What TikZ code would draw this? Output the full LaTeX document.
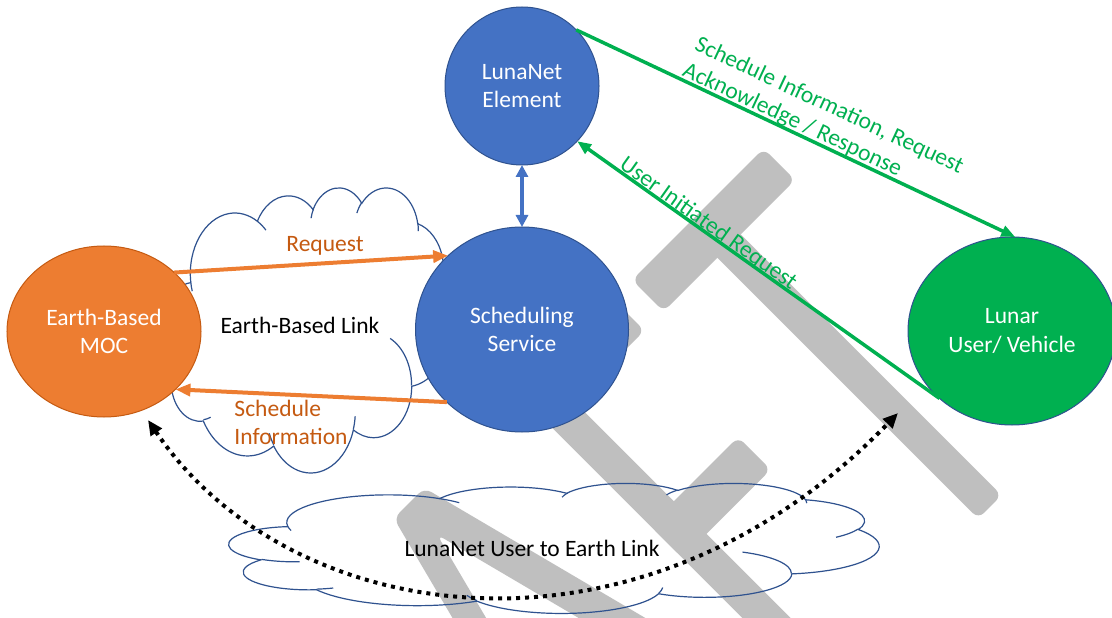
\documentclass[tikz,border=0pt]{standalone}
\usepackage{fontspec}
\setmainfont{Carlito}
\usetikzlibrary{arrows.meta,shapes.geometric}
\definecolor{cblue}{HTML}{4472C4}
\definecolor{cedge}{HTML}{2F528F}
\definecolor{corange}{HTML}{ED7D31}
\definecolor{coredge}{HTML}{C55A11}
\definecolor{corangetext}{HTML}{C55A11}
\definecolor{cgreen}{HTML}{00B050}
\definecolor{wmgray}{HTML}{BFBFBF}
\newcommand{\wmbar}[4]{\fill[wmgray,rounded corners=8bp] (#1,#2) -- (#3,#2) -- (#3,#4) -- (#1,#4) -- cycle;}
\newcommand{\officecloud}[4]{%
\begin{scope}[shift={(#1,#2)},x=#3bp,y=-#4bp]
\draw[cloudline] (39.00,143.70)
 arc[x radius=67.53,y radius=91.90,start angle=172.25,end angle=300.35]
 arc[x radius=53.33,y radius=72.67,start angle=-152.02,end angle=-45.47]
 arc[x radius=43.65,y radius=59.45,start angle=-153.47,end angle=-37.32]
 arc[x radius=48.57,y radius=65.95,start angle=-139.73,end angle=-10.22]
 arc[x radius=53.33,y radius=72.73,start angle=-74.78,end angle=23.21]
 arc[x radius=67.75,y radius=92.20,start angle=-37.54,end angle=81.86]
 arc[x radius=57.85,y radius=78.67,start angle=0.46,end angle=121.99]
 arc[x radius=67.52,y radius=92.15,start angle=16.84,end angle=146.21]
 arc[x radius=77.20,y radius=105.43,start angle=59.03,end angle=150.16]
 arc[x radius=43.60,y radius=59.18,start angle=83.31,end angle=223.11]
 arc[x radius=43.45,y radius=59.45,start angle=120.36,end angle=264.11]
 -- cycle;
\draw[cloudline]
 (46.93,261.77) arc[x radius=43.45,y radius=59.45,start angle=85.54,end angle=120.36]
 (69.28,348.99) arc[x radius=43.60,y radius=59.18,start angle=68.29,end angle=83.31]
 (164.78,390.90) arc[x radius=67.52,y radius=92.15,start angle=146.21,end angle=158.47]
 (288.27,347.51) arc[x radius=67.52,y radius=92.15,start angle=4.74,end angle=16.84]
 (341.29,229.54) arc[x radius=57.85,y radius=78.67,start angle=-64.0,end angle=0.46]
 (417.98,153.54) arc[x radius=53.33,y radius=72.73,start angle=23.21,end angle=49.65]
 (383.24,54.26) arc[x radius=48.57,y radius=65.95,start angle=-10.22,end angle=0.82]
 (290.78,39.52) arc[x radius=48.57,y radius=65.95,start angle=-156.28,end angle=-139.73]
 (221.41,47.20) arc[x radius=43.65,y radius=59.45,start angle=-167.72,end angle=-153.47]
 (140.00,51.92) arc[x radius=67.53,y radius=91.90,start angle=-59.65,end angle=-45.75]
 (41.27,157.89) arc[x radius=67.53,y radius=91.90,start angle=163.19,end angle=172.25];
\end{scope}}
\begin{document}
\begin{tikzpicture}[x=1bp,y=-1bp,
  txt/.style={font=\fontsize{23.5bp}{28.4bp}\selectfont, inner sep=0pt, outer sep=0pt},
  circ/.style={ellipse, txt, line width=1bp, text=white, align=center},
  cloudline/.style={draw=cedge, line width=1.2bp},
  orangearr/.style={draw=corange, line width=4bp, -{Triangle[length=15bp,width=12bp]}},
  greenarr/.style={draw=cgreen, line width=3.5bp, -{Triangle[length=14bp,width=11bp]}},
  bluearr/.style={draw=cblue, line width=4bp, {Triangle[length=12bp,width=12bp]}-{Triangle[length=12bp,width=12bp]}},
  dotarr/.style={draw=black, line width=4bp, dash pattern=on 4bp off 5bp, {Triangle[length=15bp,width=13bp]}-{Triangle[length=15bp,width=13bp]}}
]
\useasboundingbox (0,0) rectangle (1112,618);
\fill[white] (0,0) rectangle (1112,618);
% watermark
\begin{scope}
\clip (0,0) rectangle (1112,618);
\begin{scope}[x={(0.70711bp,0.70711bp)},y={(-0.70711bp,0.70711bp)}]
\wmbar{249}{-645}{435}{-689.5}
\wmbar{325}{-670}{358}{-1058.5}
\wmbar{88}{-645}{222}{-689.5}
\wmbar{88}{-645}{122}{-1060}
\wmbar{88}{-831}{213}{-877}
\fill[wmgray,rounded corners=8bp] (-88,-645) -- (-45,-645) -- (62,-1058) -- (27,-1058) -- (-69,-687) -- (-165,-1058) -- (-195,-1058) -- cycle;
\fill[wmgray] (-150,-930) -- (15,-930) -- (15,-965) -- (-150,-965) -- cycle;
\end{scope}
\end{scope}
% clouds
\officecloud{165}{187}{0.6597}{0.6597}
\officecloud{229}{483}{1.5046}{0.3009}
% nodes
\node[circ, fill=cblue, draw=cedge, minimum width=154bp, minimum height=158bp] (luna) at (522,86) {LunaNet\\Element};
\node[circ, fill=cblue, draw=cedge, minimum width=213bp, minimum height=205bp] (sched) at (522,329.5) {Scheduling\\Service};
\node[circ, fill=corange, draw=coredge, minimum width=194bp, minimum height=171bp] (moc) at (104,331.5) {Earth-Based\\MOC};
\node[circ, fill=cgreen, draw=cedge, minimum width=208bp, minimum height=188bp] (lunar) at (1012,331) {Lunar\\User/ Vehicle};
% labels
\node[txt] (eblink) at (300,325) {Earth-Based Link};
\node[txt] (uelink) at (532,548.5) {LunaNet User to Earth Link};
\node[txt, text=corangetext] (reqlbl) at (325,246) {Request};
\node[txt, text=corangetext, align=left] (schlbl) at (291,422.5) {Schedule\\Information};
\node[txt, text=cgreen, align=left, rotate=-25] (silbl) at (823,119) {Schedule Information, Request\\Acknowledge / Response};
\node[txt, text=cgreen, rotate=-35.5] (uirlbl) at (708,224) {User Initiated Request};
% connectors
\draw[orangearr] (moc.40) -- (sched.135);
\draw[orangearr] (sched.224) -- (moc.321);
\draw[bluearr] (luna.south) -- (sched.north);
\draw[greenarr] (luna.46) -- (lunar.88);
\draw[greenarr] (lunar.223) -- (luna.315);
\coordinate (d1) at (148,420);
\coordinate (d2) at (898,413);
\draw[dotarr] (d1) .. controls (290,630) and (640,680) .. (d2);
\end{tikzpicture}
\end{document}
